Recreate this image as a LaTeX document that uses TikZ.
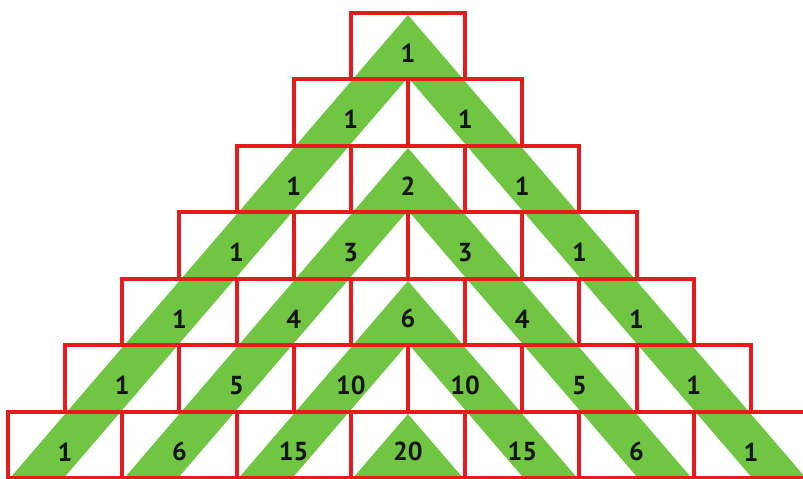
\documentclass[tikz,border=0pt]{standalone}
\usepackage{xcolor}
\usepackage{fontspec}
\setmainfont{PT Sans}
\usepackage{tikz}
\definecolor{rosso}{RGB}{230,28,28}
\definecolor{verde}{RGB}{112,198,66}
\begin{document}
\begin{tikzpicture}[x=28.575pt, y=-33.25pt,
    cella/.style={draw=rosso, line width=2pt, line join=miter},
    banda/.style={fill=verde},
    every node/.style={font=\fontsize{13}{15}\selectfont\bfseries, text=black!92}]
    \useasboundingbox[fill=white] (-7.139,-0.195) rectangle (6.912,7.008);

    % Strisce verdi
    \foreach \k in {0,...,3}
        \fill[banda] (0,{2*\k+0.03}) -- ({6.97-2*\k},7) -- ({6.03-2*\k},7)
            -- (0,{2*\k+0.97}) -- ({2*\k-6.03},7) -- ({2*\k-6.97},7) -- cycle;

    % Caselle
    \foreach \n in {0,...,6}
        \foreach \j in {0,...,\n}
            \draw[cella] ({2*\j-\n-1},\n) rectangle ++(2,1);

    % Numeri
    \node (p00) at (0,0.6) {1};
    \node (p10) at (-1,1.6) {1};
    \node (p11) at (1,1.6) {1};
    \node (p20) at (-2,2.6) {1};
    \node (p21) at (0,2.6) {2};
    \node (p22) at (2,2.6) {1};
    \node (p30) at (-3,3.6) {1};
    \node (p31) at (-1,3.6) {3};
    \node (p32) at (1,3.6) {3};
    \node (p33) at (3,3.6) {1};
    \node (p40) at (-4,4.6) {1};
    \node (p41) at (-2,4.6) {4};
    \node (p42) at (0,4.6) {6};
    \node (p43) at (2,4.6) {4};
    \node (p44) at (4,4.6) {1};
    \node (p50) at (-5,5.6) {1};
    \node (p51) at (-3,5.6) {5};
    \node (p52) at (-1,5.6) {10};
    \node (p53) at (1,5.6) {10};
    \node (p54) at (3,5.6) {5};
    \node (p55) at (5,5.6) {1};
    \node (p60) at (-6,6.6) {1};
    \node (p61) at (-4,6.6) {6};
    \node (p62) at (-2,6.6) {15};
    \node (p63) at (0,6.6) {20};
    \node (p64) at (2,6.6) {15};
    \node (p65) at (4,6.6) {6};
    \node (p66) at (6,6.6) {1};
\end{tikzpicture}
\end{document}
